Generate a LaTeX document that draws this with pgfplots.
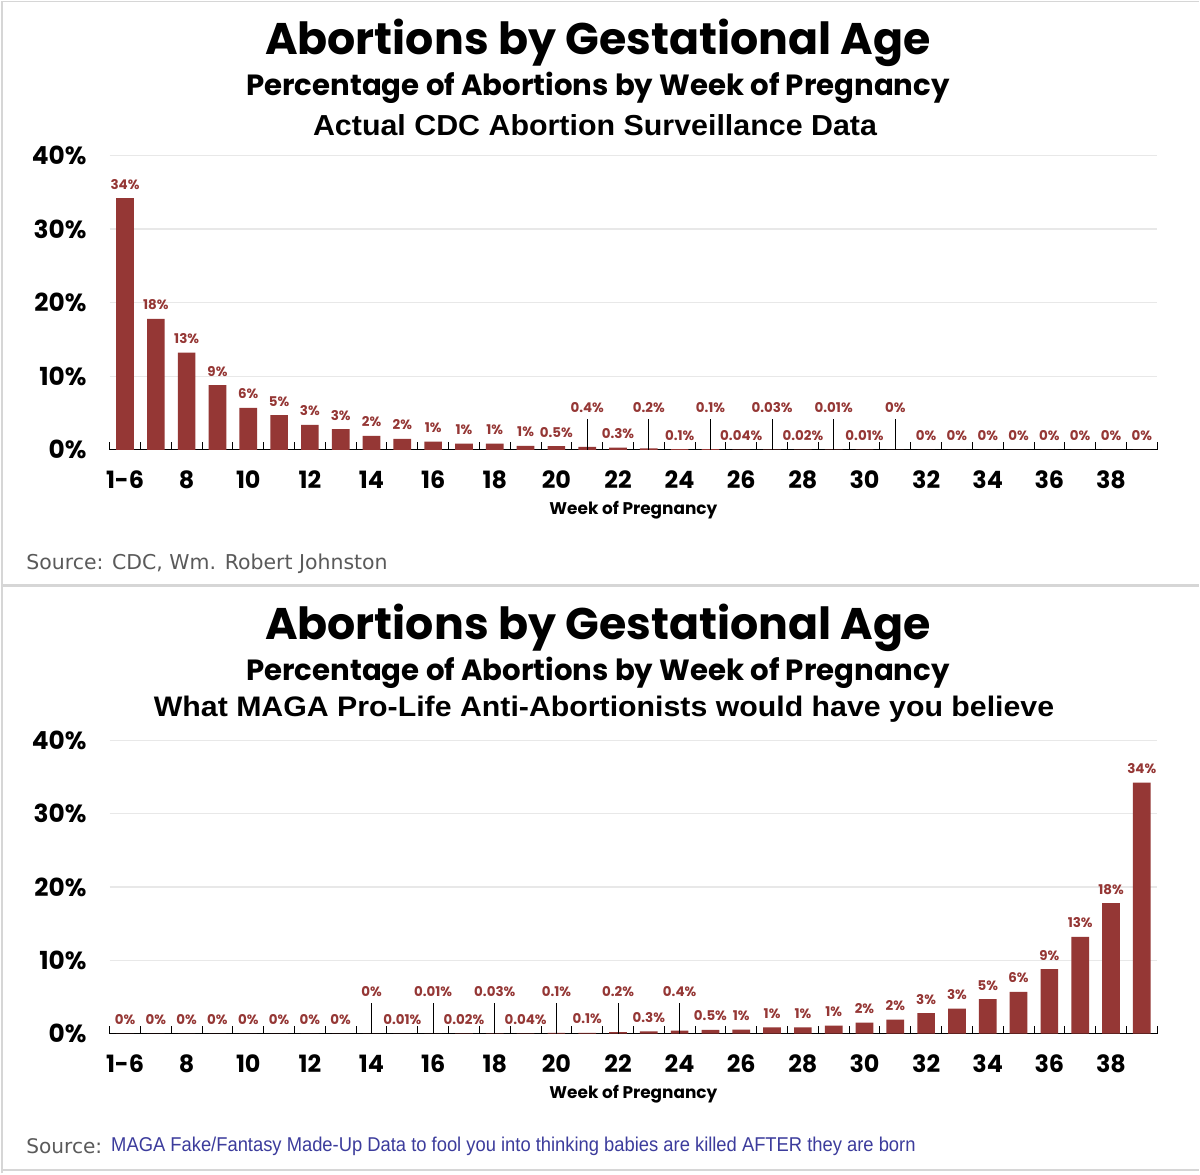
\documentclass[border=0pt]{standalone}
\usepackage{pgfplots}
\pgfplotsset{compat=1.18}
\usepackage{pgfplotstable}
\usepackage{fontspec}
\setmainfont{Poppins}
\newfontfamily\arialfont{Liberation Sans}
\newfontfamily\verdfont{DejaVu Sans}

\definecolor{barred}{HTML}{953735}
\definecolor{gridgray}{HTML}{E8E8E8}
\definecolor{framegray}{HTML}{D6D6D6}
\definecolor{srcgray}{HTML}{5A5A5A}
\definecolor{srcblue}{HTML}{3C3C9C}

% ---- actual CDC data (x = category index, 0 = weeks 1-6, 1 = week 7, ...)
\pgfplotstableread{
x y
0 34.2
1 17.8
2 13.2
3 8.8
4 5.7
5 4.7
6 3.4
7 2.8
8 1.9
9 1.5
10 1.1
11 0.85
12 0.85
13 0.55
14 0.5
15 0.4
16 0.3
17 0.2
18 0.1
19 0.1
20 0.04
21 0.03
22 0.02
23 0.01
24 0.01
25 0
26 0
27 0
28 0
29 0
30 0
31 0
32 0
33 0
}\topbars

\pgfplotstableread{
x y lab
0 34.2 34
1 17.8 18
2 13.2 13
3 8.8 9
4 5.7 6
5 4.7 5
6 3.4 3
7 2.8 3
8 1.9 2
9 1.5 2
10 1.1 1
11 0.85 1
12 0.85 1
13 0.55 1
14 0.5 0.5
16 0.3 0.3
18 0.1 0.1
20 0.04 0.04
22 0.02 0.02
24 0.01 0.01
26 0 0
27 0 0
28 0 0
29 0 0
30 0 0
31 0 0
32 0 0
33 0 0
}\toplow

\pgfplotstableread{
x y lab
15 4.2 0.4
17 4.2 0.2
19 4.2 0.1
21 4.2 0.03
23 4.2 0.01
25 4.2 0
}\tophigh

% ---- "fantasy" data: same values, reversed
\pgfplotstableread{
x y
0 0
1 0
2 0
3 0
4 0
5 0
6 0
7 0
8 0
9 0.01
10 0.01
11 0.02
12 0.03
13 0.04
14 0.1
15 0.1
16 0.2
17 0.3
18 0.4
19 0.5
20 0.55
21 0.85
22 0.85
23 1.1
24 1.5
25 1.9
26 2.8
27 3.4
28 4.7
29 5.7
30 8.8
31 13.2
32 17.8
33 34.2
}\botbars

\pgfplotstableread{
x y lab
0 0 0
1 0 0
2 0 0
3 0 0
4 0 0
5 0 0
6 0 0
7 0 0
9 0.01 0.01
11 0.02 0.02
13 0.04 0.04
15 0.1 0.1
17 0.3 0.3
19 0.5 0.5
20 0.55 1
21 0.85 1
22 0.85 1
23 1.1 1
24 1.5 2
25 1.9 2
26 2.8 3
27 3.4 3
28 4.7 5
29 5.7 6
30 8.8 9
31 13.2 13
32 17.8 18
33 34.2 34
}\botlow

\pgfplotstableread{
x y lab
8 4.2 0
10 4.2 0.01
12 4.2 0.03
14 4.2 0.1
16 4.2 0.2
18 4.2 0.4
}\bothigh

\pgfplotsset{
  panel/.style={
    scale only axis,
    width=1049.75bp, height=295bp,
    xmin=-0.5, xmax=33.5, ymin=0, ymax=40,
    axis x line*=bottom, axis y line*=left,
    y axis line style={draw=none},
    x axis line style={black, line width=1.3bp},
    xtick={0,2,...,32},
    xticklabels={1-6,8,10,12,14,16,18,20,22,24,26,28,30,32,34,36,38},
    minor xtick={-0.5,0.5,...,33.5},
    xtick align=inside,
    major tick length=0pt,
    minor tick length=8bp,
    minor tick style={black, line width=0.9bp},
    ytick={0,10,20,30,40},
    yticklabels={0\%,10\%,20\%,30\%,40\%},
    ymajorgrids,
    major grid style={gridgray, line width=1.3bp},
    ticklabel style={font=\fontsize{24}{24}\selectfont\bfseries},
    xticklabel style={anchor=north, inner sep=0pt, yshift=-21bp},
    yticklabel style={anchor=east, inner sep=0pt, xshift=-23bp,
      font=\fontsize{25}{25}\selectfont\bfseries},
    xlabel={Week of Pregnancy},
    xlabel style={font=\fontsize{17}{17}\selectfont\bfseries,
      at={(axis description cs:0.5,0)}, anchor=base, yshift=-65bp},
    clip=false,
  },
  bars/.style={ybar, bar width=17.7bp, fill=barred, draw=none},
  lowlab/.style={draw=none, no markers, nodes near coords={\pgfplotspointmeta\%},
    point meta=explicit symbolic,
    every node near coord/.append style={font=\fontsize{13.5}{13.5}\selectfont\bfseries,
      text=barred, anchor=base, inner sep=0pt, yshift=9bp}},
  highlab/.style={ycomb, black, line width=0.9bp, no markers,
    nodes near coords={\pgfplotspointmeta\%},
    point meta=explicit symbolic,
    every node near coord/.append style={font=\fontsize{13.5}{13.5}\selectfont\bfseries,
      text=barred, anchor=base, inner sep=0pt, yshift=6.5bp}},
}

\begin{document}
\begin{tikzpicture}[x=1bp, y=1bp]
\fill[white] (0,0) rectangle (1200,1175);
% panel frames
\draw[framegray, line width=1.5bp] (1,0) -- (1,1175);
\draw[framegray, line width=1.5bp] (0,1174) -- (1200,1174);
\draw[framegray, line width=2.5bp] (0,589) -- (1200,589);
\draw[framegray, line width=1.5bp] (0,3.5) -- (1200,3.5);

% titles, top panel
\node at (598,1133) {\resizebox{667bp}{!}{\bfseries Abortions by Gestational Age}};
\node at (598,1088) {\resizebox{705bp}{!}{\bfseries Percentage of Abortions by Week of Pregnancy}};
\node at (595,1050) {\resizebox{565bp}{21bp}{\arialfont\bfseries Actual CDC Abortion Surveillance Data}};
\node[anchor=west, inner sep=0pt] at (25,611) {\resizebox{362bp}{!}{\verdfont\color{srcgray}Source: CDC, Wm. Robert Johnston}};

% titles, bottom panel
\node at (598,547) {\resizebox{667bp}{!}{\bfseries Abortions by Gestational Age}};
\node at (598,502) {\resizebox{705bp}{!}{\bfseries Percentage of Abortions by Week of Pregnancy}};
\node at (604,465) {\resizebox{902bp}{20.5bp}{\arialfont\bfseries What MAGA Pro-Life Anti-Abortionists would have you believe}};
\node[anchor=west, inner sep=0pt] at (25,27) {\resizebox{76bp}{!}{\verdfont\color{srcgray}Source:}};
\node[anchor=west, inner sep=0pt] at (110,27) {\resizebox{806bp}{14.5bp}{\arialfont\color{srcblue}MAGA Fake/Fantasy Made-Up Data to fool you into thinking babies are killed AFTER they are born}};

\begin{axis}[panel, at={(108.6bp,725bp)}, anchor=south west]
\addplot[bars] table[x=x, y=y] {\topbars};
\addplot[lowlab] table[x=x, y=y, meta=lab] {\toplow};
\addplot[highlab] table[x=x, y=y, meta=lab] {\tophigh};
\end{axis}

\begin{axis}[panel, height=294bp, at={(108.6bp,140bp)}, anchor=south west]
\addplot[bars] table[x=x, y=y] {\botbars};
\addplot[lowlab] table[x=x, y=y, meta=lab] {\botlow};
\addplot[highlab] table[x=x, y=y, meta=lab] {\bothigh};
\end{axis}
\end{tikzpicture}
\end{document}
